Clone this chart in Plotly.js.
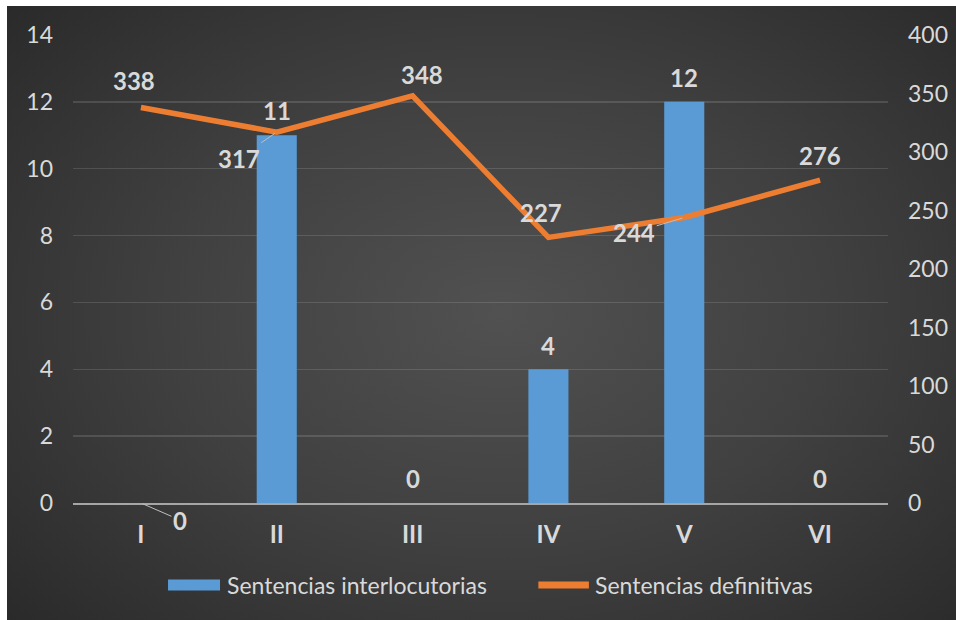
<!DOCTYPE html>
<html><head><meta charset="utf-8">
<script src="https://cdn.plot.ly/plotly-3.0.1.min.js"></script>
<style>
html,body{margin:0;padding:0;background:#fff;}
#wrap{position:relative;width:956px;height:620px;background:#fff;overflow:hidden;}
#bg{position:absolute;left:7px;top:6px;width:949px;height:614px;
 background:radial-gradient(ellipse 70% 75% at 52% 50%, #515151 0%, #404040 50%, #2a2a2a 100%);}
#chart{position:absolute;left:0;top:0;width:956px;height:620px;}
</style></head>
<body><div id="wrap"><div id="bg"></div><div id="chart"></div></div>
<script>
const categories = ['I','II','III','IV','V','VI'];
const interlocutorias = [0, 11, 0, 4, 12, 0];
const definitivas = [338, 317, 348, 227, 244, 276];
const seriesNames = ['Sentencias interlocutorias', 'Sentencias definitivas'];

// label styling (pixel offsets per point): [ax, ay, showArrow]
const barLabelStyle = [[39,17,true],[0,-25,false],[0,-25,false],[0,-24,false],[0,-24,false],[0,-25,false]];
const lineLabelStyle = [[-7,-27,false],[-38,26,true],[9,-21,false],[-7,-25,false],[-50,15,true],[0,-25,false]];

const FONT = "'Century Gothic','URW Gothic',Lato,'DejaVu Sans',sans-serif";
const TXT = '#d9d9d9';

const traces = [
 {type:'bar', x:categories, y:interlocutorias, name:seriesNames[0], width:0.295,
  marker:{color:'#5b9bd5'}, yaxis:'y', hoverinfo:'skip'},
 {type:'scatter', mode:'lines', x:categories, y:definitivas, name:seriesNames[1], yaxis:'y2',
  line:{color:'#ed7d31', width:5.5}, hoverinfo:'skip'}
];

const annotations = [];
function addLabel(x, y, yref, st){
  const a = {x:x, y:y, xref:'x', yref:yref, text:'<b>'+y+'</b>',
    font:{family:FONT, size:24, color:TXT}};
  if(st[2]){
    Object.assign(a,{showarrow:true, ax:st[0], ay:st[1], arrowhead:0, arrowwidth:1, arrowcolor:'#bfbfbf', standoff:2});
  } else {
    Object.assign(a,{showarrow:false, xshift:st[0], yshift:-st[1]});
  }
  annotations.push(a);
}
categories.forEach((c,i)=>{ addLabel(c, interlocutorias[i], 'y', barLabelStyle[i]); });
categories.forEach((c,i)=>{ addLabel(c, definitivas[i], 'y2', lineLabelStyle[i]); });

// custom legend
const legY = -0.175;
annotations.push({xref:'paper', yref:'paper', x:0.186, y:legY, xanchor:'left', yanchor:'middle', showarrow:false,
  text:seriesNames[0], font:{family:FONT, size:23, color:TXT}});
annotations.push({xref:'paper', yref:'paper', x:0.638, y:legY, xanchor:'left', yanchor:'middle', showarrow:false,
  text:seriesNames[1], font:{family:FONT, size:23, color:TXT}});
const shapes = [
 {type:'rect', xref:'paper', yref:'paper', x0:0.1166, x1:0.1804, y0:legY-0.0118, y1:legY+0.0118,
  fillcolor:'#5b9bd5', line:{width:0}},
 {type:'line', xref:'paper', yref:'paper', x0:0.571, x1:0.633, y0:legY, y1:legY,
  line:{color:'#ed7d31', width:7}}
];

const layout = {
 width:956, height:620,
 margin:{l:73, r:68, t:35, b:117},
 paper_bgcolor:'rgba(0,0,0,0)', plot_bgcolor:'rgba(0,0,0,0)',
 showlegend:false,
 font:{family:FONT, color:TXT},
 bargap:0.7,
 xaxis:{type:'category', showgrid:false, zeroline:false, showline:true, linecolor:'#a6a6a6', linewidth:2,
   ticks:'', ticklabelstandoff:9, tickfont:{family:FONT, size:24, color:TXT, weight:'bold'}, fixedrange:true},
 yaxis:{range:[0,14], dtick:2, showgrid:true, gridcolor:'rgba(255,255,255,0.13)', gridwidth:1.5,
   zeroline:false, showline:false, ticks:'', ticklabelstandoff:19,
   tickfont:{family:FONT, size:23, color:TXT}},
 yaxis2:{range:[0,400], dtick:50, overlaying:'y', side:'right', showgrid:false, zeroline:false,
   showline:false, ticks:'', ticklabelstandoff:19, tickfont:{family:FONT, size:23, color:TXT}},
 annotations:annotations, shapes:shapes
};
Plotly.newPlot('chart', traces, layout, {displayModeBar:false, staticPlot:true});
</script></body></html>
